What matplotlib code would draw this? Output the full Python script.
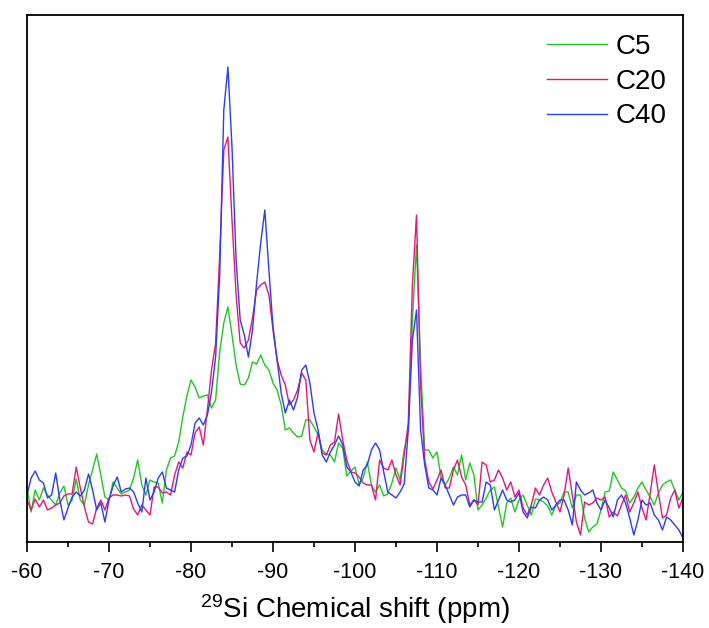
import numpy as np
import matplotlib
matplotlib.use("Agg")
import matplotlib.pyplot as plt
from matplotlib.ticker import MultipleLocator

plt.rcParams["font.family"] = ["Liberation Sans", "DejaVu Sans"]
plt.rcParams["mathtext.fontset"] = "custom"
plt.rcParams["mathtext.rm"] = "Liberation Sans"
plt.rcParams["mathtext.it"] = "Liberation Sans:italic"
plt.rcParams["axes.unicode_minus"] = False

# chemical shift axis, 0.5 ppm steps from -60 to -140 ppm
shift = np.linspace(-60, -140, 161)

# intensities (arbitrary units)
c5 = [
    54, 30, 52, 42, 54, 47, 42, 37, 49, 56, 37, 42, 63, 42, 37, 57, 72, 88, 67, 45,
    42, 60, 54, 48, 50, 52, 64, 82, 57,
    47, 62, 60, 59, 39, 72, 84, 86, 100, 125, 146, 162, 155, 144, 146, 147, 134, 142, 190, 219,
    235, 207, 177, 158, 157, 164, 180, 178, 187, 177, 172, 159, 152, 137, 112, 114, 109, 105,
    106, 122, 122, 115, 107,
    92, 88, 87, 80, 99, 94, 66, 71, 75, 57, 64, 80, 57, 50, 57, 46, 48, 59, 74, 62, 92,
    112, 222, 297, 177, 92, 92, 84, 90,
    64, 57, 64, 75, 67, 87, 62, 79, 67, 32, 37, 44, 52, 55, 35, 15, 39, 44, 30, 42,
    47, 37, 27, 43, 42, 40, 36, 27, 37, 39, 50, 50, 34, 47, 47, 24, 10, 15, 18, 32,
    50, 51, 70, 62, 54, 51, 39, 45, 54, 60, 52, 45, 37, 49, 57, 60, 62, 52, 42, 50,
]
c20 = [
    42, 32, 43, 35, 42, 32, 34, 37, 39, 46, 48, 48, 75, 54, 35, 20, 18, 34, 42, 32,
    44, 47, 47, 46, 47, 46, 33, 27, 37,
    32, 27, 55, 55, 49, 50, 47, 67, 80, 74, 90, 87, 109, 115, 97, 132, 172, 199, 287, 392,
    405, 322, 247, 199, 194, 202, 224, 252, 257, 260, 247, 212, 182, 167, 157, 137, 142, 152,
    169, 162, 102, 90, 110,
    89, 87, 97, 100, 128, 102, 82, 70, 69, 65, 59, 57, 57, 42, 82, 74, 72, 82, 67, 57, 87,
    119, 257, 327, 157, 82, 60, 53, 62,
    72, 54, 54, 72, 82, 65, 57, 37, 42, 37, 80, 77, 60, 62, 72, 64, 52, 60, 45, 52,
    34, 27, 37, 54, 47, 57, 64, 50, 40, 30, 47, 74, 47, 20, 7, 40, 37, 39, 44, 42,
    45, 25, 30, 26, 37, 47, 30, 39, 50, 34, 22, 49, 77, 49, 24, 27, 44, 52, 34, 45,
]
c40 = [
    47, 64, 71, 62, 59, 44, 47, 69, 42, 22, 34, 45, 50, 46, 52, 68, 52, 32, 39, 20,
    42, 56, 65, 50, 53, 54, 50, 39, 30,
    64, 42, 50, 64, 70, 54, 52, 50, 72, 84, 86, 97, 119, 124, 117, 127, 150, 185, 267, 432,
    475, 395, 282, 222, 207, 185, 212, 259, 299, 332, 272, 215, 182, 149, 129, 142, 132, 145,
    172, 177, 159, 129, 112,
    87, 80, 90, 97, 106, 97, 75, 70, 60, 56, 72, 77, 92, 99, 92, 70, 50, 47, 44, 50, 58,
    112, 202, 232, 112, 77, 54, 52, 47,
    64, 57, 47, 37, 45, 47, 47, 35, 42, 40, 40, 60, 57, 32, 42, 52, 42, 40, 42, 49,
    30, 24, 35, 34, 42, 45, 42, 32, 37, 42, 42, 32, 17, 60, 52, 47, 49, 52, 39, 32,
    42, 34, 25, 42, 47, 39, 24, 7, 22, 42, 37, 39, 27, 22, 12, 25, 22, 17, 12, 4,
]
labels = ["C5", "C20", "C40"]
colors = ["#1ec81e", "#e8147c", "#2a3cff"]

fig = plt.figure(figsize=(7.09, 6.28), dpi=100)
ax = fig.add_axes([27 / 709, 86 / 628, 656 / 709, 527 / 628])

for series, name, col in zip([c5, c20, c40], labels, colors):
    ax.plot(shift, series, color=col, lw=1.0, label=name)

ax.set_xlim(-60, -140)
ax.set_ylim(0, 527)
ax.xaxis.set_major_locator(MultipleLocator(10))
ax.xaxis.set_minor_locator(MultipleLocator(5))
ax.set_yticks([])
ax.tick_params(axis="x", which="major", direction="out", length=7.2, width=1.2,
               labelsize=15.5, pad=7)
ax.tick_params(axis="x", which="minor", direction="out", length=3.6, width=1.2)
for sp in ax.spines.values():
    sp.set_linewidth(1.3)

ax.set_xlabel(r"$^{29}$Si Chemical shift (ppm)", fontsize=20, labelpad=7)

ax.legend(loc="upper right", frameon=False, fontsize=20, handlelength=2.15,
          handletextpad=0.33, labelspacing=0.32, borderaxespad=0,
          bbox_to_anchor=(0.9924, 0.9856))

fig.savefig("out.png", dpi=100)
